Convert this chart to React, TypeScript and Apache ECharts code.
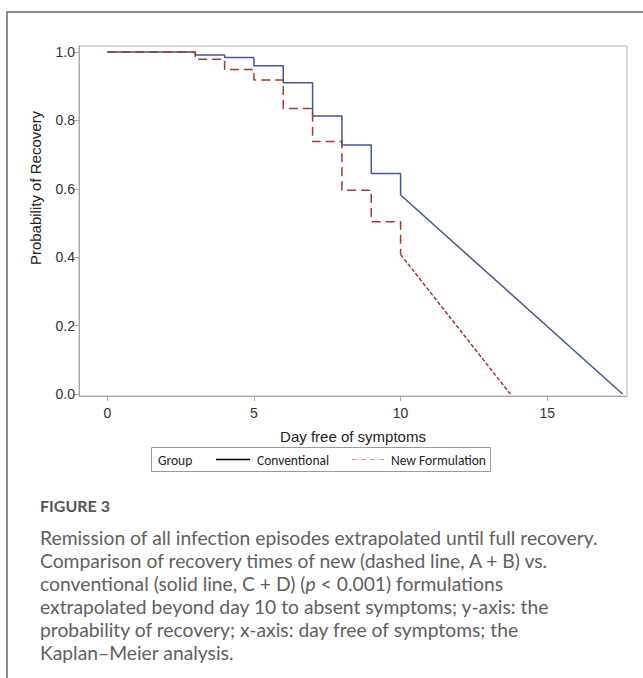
import React, { useEffect, useRef } from "react";
import * as echarts from "echarts";

// Kaplan–Meier steps (day, probability of recovery)
const conventionalDays = [0, 3, 4, 5, 6, 7, 8, 9, 10];
const conventionalSurvival = [1.0, 0.991, 0.984, 0.96, 0.91, 0.813, 0.728, 0.645, 0.582];
const conventionalTailDays = [10, 17.57];
const conventionalTailSurvival = [0.582, 0];

const newDays = [0, 3, 4, 5, 6, 7, 8, 9, 10];
const newSurvival = [1.0, 0.979, 0.949, 0.918, 0.835, 0.738, 0.596, 0.504, 0.408];
const newTailDays = [10, 13.74];
const newTailSurvival = [0.408, 0];

const xTicks = [0, 5, 10, 15];
const yTicks = [0, 0.2, 0.4, 0.6, 0.8, 1.0];

const xTitle = "Day free of symptoms";
const yTitle = "Probability of Recovery";
const legendTitle = "Group";
const legendNames = ["Conventional", "New Formulation"];
const figureLabel = "FIGURE 3";
const captionLines = [
  "Remission of all infection episodes extrapolated until full recovery.",
  "Comparison of recovery times of new (dashed line, A + B) vs.",
  "conventional (solid line, C + D) ({it|p} < 0.001) formulations",
  "extrapolated beyond day 10 to absent symptoms; y-axis: the",
  "probability of recovery; x-axis: day free of symptoms; the",
  "Kaplan\u2013Meier analysis.",
];

const zip = (a: number[], b: number[]) => a.map((v, i) => [v, b[i]]);

const BLUE = "#445694";
const RED = "#A23A2E";
const AXIS = "#a8a8a8";
const ARIAL = "'Liberation Sans', Arial, sans-serif";
const CAP = "Lato, 'Open Sans', sans-serif";
const LEG = "Carlito, Lato, sans-serif";

export default function App() {
  const ref = useRef<HTMLDivElement>(null);
  useEffect(() => {
    if (!ref.current) return;
    const chart = echarts.init(ref.current, undefined, { renderer: "svg" });
    const captionGraphics: any[] = captionLines.map((line, i) => ({
      type: "text",
      x: 40,
      y: 537 + i * 23,
      style: {
        text: line,
        rich: { it: { fontStyle: "italic", fontSize: 19.3, fontFamily: CAP, fill: "#606060" } },
        fontSize: 19.3,
        fontFamily: CAP,
        fill: "#606060",
        verticalAlign: "middle",
      },
    }));
    chart.setOption({
      animation: false,
      backgroundColor: "#ffffff",
      grid: {
        left: 79,
        top: 46,
        right: 16,
        bottom: 282,
        show: true,
        borderColor: "#b4b4b4",
        borderWidth: 1,
        containLabel: false,
        outerBoundsMode: "none",
      },
      xAxis: {
        type: "value",
        min: -0.965,
        max: 17.72,
        axisLine: { show: true, onZero: false, lineStyle: { color: AXIS } },
        axisTick: { show: true, customValues: xTicks, length: 5, lineStyle: { color: AXIS } },
        axisLabel: {
          customValues: xTicks,
          color: "#333",
          fontSize: 14,
          fontFamily: ARIAL,
          margin: 10,
        },
        splitLine: { show: false },
      },
      yAxis: {
        type: "value",
        min: -0.0058,
        max: 1.0175,
        axisLine: { show: true, onZero: false, lineStyle: { color: AXIS } },
        axisTick: { show: true, customValues: yTicks, length: 6, lineStyle: { color: AXIS } },
        axisLabel: {
          customValues: yTicks,
          color: "#333",
          fontSize: 14,
          fontFamily: ARIAL,
          margin: 4,
          formatter: (v: number) => v.toFixed(1),
        },
        splitLine: { show: false },
      },
      series: [
        {
          name: legendNames[0],
          type: "line",
          step: "end",
          data: zip(conventionalDays, conventionalSurvival),
          showSymbol: false,
          lineStyle: { color: BLUE, width: 1.5 },
          z: 2,
        },
        {
          name: legendNames[0] + " tail",
          type: "line",
          data: zip(conventionalTailDays, conventionalTailSurvival),
          showSymbol: false,
          lineStyle: { color: BLUE, width: 1.5 },
          z: 2,
        },
        {
          name: legendNames[1],
          type: "line",
          step: "end",
          data: zip(newDays, newSurvival),
          showSymbol: false,
          lineStyle: { color: RED, width: 1.5, type: [9, 5] },
          z: 3,
        },
        {
          name: legendNames[1] + " tail",
          type: "line",
          data: zip(newTailDays, newTailSurvival),
          showSymbol: false,
          lineStyle: { color: RED, width: 1.5, type: [4, 2] },
          z: 3,
        },
      ],
      graphic: [
        {
          type: "rect",
          shape: { x: 7, y: 12, width: 700, height: 700 },
          style: { fill: "none", stroke: "#8c8c8c", lineWidth: 2 },
          silent: true,
        },
        {
          type: "text",
          x: 35,
          y: 188,
          rotation: Math.PI / 2,
          style: {
            text: yTitle,
            fontSize: 15,
            fontFamily: ARIAL,
            fill: "#222",
            align: "center",
            verticalAlign: "middle",
          },
        },
        {
          type: "text",
          x: 353,
          y: 436,
          style: {
            text: xTitle,
            fontSize: 15,
            fontFamily: ARIAL,
            fill: "#222",
            align: "center",
            verticalAlign: "middle",
          },
        },
        {
          type: "rect",
          shape: { x: 151.5, y: 447.5, width: 339, height: 24 },
          style: { fill: "#fff", stroke: "#9a9a9a", lineWidth: 1 },
        },
        {
          type: "text",
          x: 158,
          y: 460,
          style: { text: legendTitle, fontSize: 13.5, fontFamily: LEG, fill: "#222", verticalAlign: "middle" },
        },
        {
          type: "line",
          shape: { x1: 216, y1: 459.5, x2: 250, y2: 459.5 },
          style: { stroke: "#000", lineWidth: 1.5 },
        },
        {
          type: "text",
          x: 257,
          y: 460,
          style: { text: legendNames[0], fontSize: 13.5, fontFamily: LEG, fill: "#222", verticalAlign: "middle" },
        },
        {
          type: "line",
          shape: { x1: 352, y1: 459.5, x2: 385, y2: 459.5 },
          style: { stroke: "#E8956A", lineWidth: 1.2, lineDash: [5, 4] },
        },
        {
          type: "text",
          x: 391,
          y: 460,
          style: { text: legendNames[1], fontSize: 13.5, fontFamily: LEG, fill: "#222", verticalAlign: "middle" },
        },
        {
          type: "text",
          x: 40,
          y: 505,
          style: {
            text: figureLabel,
            fontSize: 16,
            fontWeight: "bold",
            fontFamily: CAP,
            fill: "#555",
            verticalAlign: "middle",
          },
        },
        ...captionGraphics,
      ],
    });
    return () => chart.dispose();
  }, []);
  return (
    <div
      ref={ref}
      style={{ position: "fixed", left: 0, top: 0, width: 643, height: 678, background: "#fff" }}
    />
  );
}
